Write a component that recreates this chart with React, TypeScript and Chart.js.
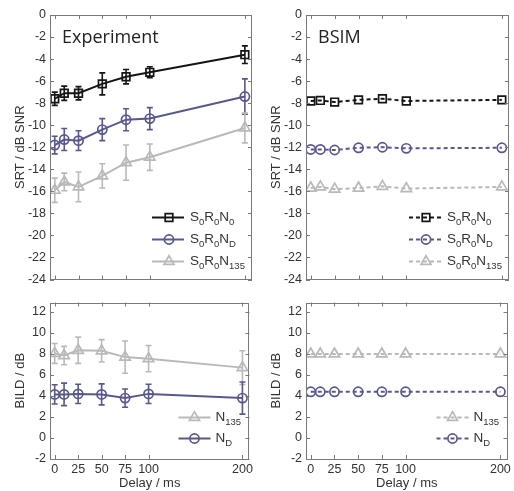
import React, { useEffect, useRef } from "react";
import { Chart, registerables } from "chart.js";
Chart.register(...registerables);

// ---------- data ----------
const delays = [0, 10, 25, 50, 75, 100, 200];
const xTickValues = [0, 25, 50, 75, 100, 200];
const srtTicks = [0, -2, -4, -6, -8, -10, -12, -14, -16, -18, -20, -22, -24];
const bildTicks = [-2, 0, 2, 4, 6, 8, 10, 12];

const expN0 = [-7.6, -7.1, -7.1, -6.25, -5.6, -5.2, -3.6];
const expN0Err = [0.6, 0.65, 0.6, 1.0, 0.65, 0.5, 0.8];
const expND = [-11.8, -11.3, -11.4, -10.4, -9.5, -9.4, -7.4];
const expNDErr = [0.8, 1.0, 0.9, 1.0, 1.0, 1.0, 1.6];
const expN135 = [-15.9, -15.15, -15.6, -14.6, -13.4, -12.9, -10.25];
const expN135Err = [1.1, 0.8, 1.35, 1.1, 1.6, 1.2, 1.35];

const expBildN135 = [8.05, 7.85, 8.35, 8.3, 7.7, 7.55, 6.7];
const expBildN135Err = [0.95, 0.87, 1.25, 1.07, 1.53, 1.25, 1.6];
const expBildND = [4.15, 4.15, 4.2, 4.15, 3.8, 4.2, 3.8];
const expBildNDErr = [0.92, 1.07, 0.92, 1.0, 0.87, 0.92, 1.53];

const simN0 = [-7.8, -7.75, -7.9, -7.7, -7.6, -7.8, -7.7];
const simND = [-12.2, -12.2, -12.25, -12.05, -12.0, -12.1, -12.05];
const simN135 = [-15.7, -15.6, -15.8, -15.7, -15.55, -15.75, -15.6];

const simBildN135 = [8.0, 8.0, 8.0, 8.0, 8.0, 8.0, 8.0];
const simBildND = [4.4, 4.4, 4.4, 4.4, 4.4, 4.4, 4.4];

const labelN0 = "S_{0}R_{0}N_{0}";
const labelND = "S_{0}R_{0}N_{D}";
const labelN135 = "S_{0}R_{0}N_{135}";
const labelBildN135 = "N_{135}";
const labelBildND = "N_{D}";

// ---------- styles ----------
const BLACK = "#151515";
const BLUE = "#585890";
const GRAY = "#b9b9b9";
const AXIS = "#7a7a7a";
const TEXT = "#333333";
const FONT = "'Liberation Sans', Arial, sans-serif";

type Marker = "rect" | "circle" | "triangle";
interface Series {
  label: string;
  values: number[];
  errors?: number[];
  color: string;
  marker: Marker;
  dashed: boolean;
}
interface PanelSpec {
  left: number;
  top: number;
  width: number;
  height: number;
  padTop: number;
  padRight: number;
  xAxisHeight: number;
  showXLabels: boolean;
  yMin: number;
  yMax: number;
  yTicks: number[];
  yTitle: string;
  title?: string;
  series: Series[];
  legend: number[];
  legendRow0: number;
  legendStep: number;
  legendLine: [number, number, number, number];
}

function drawMarker(ctx: CanvasRenderingContext2D, m: Marker, x: number, y: number, color: string) {
  ctx.save();
  ctx.setLineDash([]);
  ctx.strokeStyle = color;
  ctx.lineWidth = 1.7;
  ctx.beginPath();
  if (m === "rect") {
    ctx.rect(x - 3.8, y - 3.8, 7.6, 7.6);
  } else if (m === "circle") {
    ctx.arc(x, y, 4.6, 0, Math.PI * 2);
  } else {
    const r = 5.8;
    ctx.moveTo(x, y - r);
    ctx.lineTo(x + r * 0.866, y + r * 0.5);
    ctx.lineTo(x - r * 0.866, y + r * 0.5);
    ctx.closePath();
  }
  ctx.stroke();
  ctx.restore();
}

function drawRichLabel(ctx: CanvasRenderingContext2D, label: string, x: number, y: number) {
  const parts: { t: string; sub: boolean }[] = [];
  const re = /_\{([^}]*)\}/g;
  let last = 0;
  let m: RegExpExecArray | null;
  while ((m = re.exec(label))) {
    if (m.index > last) parts.push({ t: label.slice(last, m.index), sub: false });
    parts.push({ t: m[1], sub: true });
    last = m.index + m[0].length;
  }
  if (last < label.length) parts.push({ t: label.slice(last), sub: false });
  ctx.save();
  ctx.fillStyle = TEXT;
  ctx.textBaseline = "middle";
  ctx.textAlign = "left";
  let cx = x;
  for (const p of parts) {
    ctx.font = p.sub ? `9.5px ${FONT}` : `13.5px ${FONT}`;
    ctx.fillText(p.t, cx, p.sub ? y + 5 : y);
    cx += ctx.measureText(p.t).width;
  }
  ctx.restore();
}

const errorBars = {
  id: "errorBars",
  beforeDatasetsDraw(chart: any) {
    const { ctx } = chart;
    const x = chart.scales.x;
    const y = chart.scales.y;
    chart.data.datasets.forEach((ds: any) => {
      if (!ds.errors) return;
      ctx.save();
      ctx.strokeStyle = ds.borderColor;
      ctx.lineWidth = 1.6;
      ds.data.forEach((pt: any, i: number) => {
        const e = ds.errors[i];
        const px = x.getPixelForValue(pt.x);
        const y1 = y.getPixelForValue(pt.y + e);
        const y2 = y.getPixelForValue(pt.y - e);
        ctx.beginPath();
        ctx.moveTo(px, y1);
        ctx.lineTo(px, y2);
        ctx.moveTo(px - 3, y1);
        ctx.lineTo(px + 3, y1);
        ctx.moveTo(px - 3, y2);
        ctx.lineTo(px + 3, y2);
        ctx.stroke();
      });
      ctx.restore();
    });
  },
};

function makeDeco(spec: PanelSpec) {
  return {
    id: "deco",
    afterDraw(chart: any) {
      const { ctx, chartArea: a } = chart;
      const x = chart.scales.x;
      const y = chart.scales.y;
      ctx.save();
      ctx.strokeStyle = AXIS;
      ctx.lineWidth = 1;
      ctx.strokeRect(Math.round(a.left) + 0.5, Math.round(a.top) + 0.5, Math.round(a.width) - 1, Math.round(a.height) - 1);
      ctx.beginPath();
      for (const v of xTickValues) {
        const px = Math.round(x.getPixelForValue(v)) + 0.5;
        ctx.moveTo(px, a.bottom);
        ctx.lineTo(px, a.bottom - 4);
        ctx.moveTo(px, a.top);
        ctx.lineTo(px, a.top + 4);
      }
      for (const v of spec.yTicks) {
        const py = Math.round(y.getPixelForValue(v)) + 0.5;
        ctx.moveTo(a.left, py);
        ctx.lineTo(a.left + 4, py);
        ctx.moveTo(a.right, py);
        ctx.lineTo(a.right - 4, py);
      }
      ctx.stroke();
      ctx.restore();

      if (spec.title) {
        ctx.save();
        ctx.fillStyle = "#222";
        ctx.font = `18px 'Open Sans', sans-serif`;
        ctx.textBaseline = "middle";
        ctx.textAlign = "left";
        ctx.fillText(spec.title, a.left + 12, a.top + 23);
        ctx.restore();
      }

      const [ls, le, mk, tx] = spec.legendLine;
      spec.legend.forEach((idx, row) => {
        const s = spec.series[idx];
        const ry = Math.round(a.bottom - spec.legendRow0 + row * spec.legendStep) + 0.5;
        ctx.save();
        ctx.strokeStyle = s.color;
        ctx.lineWidth = 2;
        ctx.setLineDash(s.dashed ? [4, 3] : []);
        ctx.beginPath();
        ctx.moveTo(a.right - ls, ry);
        ctx.lineTo(a.right - le, ry);
        ctx.stroke();
        ctx.restore();
        drawMarker(ctx, s.marker, a.right - mk, ry, s.color);
        drawRichLabel(ctx, s.label, a.right - tx, ry);
      });
    },
  };
}

function buildConfig(spec: PanelSpec): any {
  const datasets = spec.series.map((s) => ({
    label: s.label,
    data: delays.map((d, i) => ({ x: d, y: s.values[i] })),
    errors: s.errors,
    borderColor: s.color,
    backgroundColor: "rgba(255,255,255,0)",
    borderWidth: 2,
    borderDash: s.dashed ? [4, 3] : [],
    pointStyle: s.marker,
    pointRadius: s.marker === "rect" ? 5.4 : s.marker === "circle" ? 4.6 : 6,
    pointBorderWidth: 1.7,
    pointBorderColor: s.color,
    pointBackgroundColor: "rgba(255,255,255,0)",
    showLine: true,
    tension: 0,
  }));
  return {
    type: "scatter",
    data: { datasets },
    options: {
      animation: false,
      responsive: false,
      layout: { autoPadding: false, padding: { top: spec.padTop, right: spec.padRight, left: 0, bottom: 0 } },
      plugins: { legend: { display: false }, tooltip: { enabled: false } },
      scales: {
        x: {
          type: "linear",
          min: -5,
          max: 207.5,
          afterBuildTicks: (sc: any) => {
            sc.ticks = xTickValues.map((v) => ({ value: v }));
          },
          afterFit: (sc: any) => {
            sc.height = spec.xAxisHeight;
          },
          grid: { display: false, drawTicks: false },
          border: { display: false },
          ticks: {
            display: spec.showXLabels,
            autoSkip: false,
            maxRotation: 0,
            padding: 3,
            color: TEXT,
            font: { family: FONT, size: 12.5 },
          },
          title: {
            display: spec.showXLabels,
            text: "Delay / ms",
            color: TEXT,
            font: { family: FONT, size: 13 },
            padding: { top: 0, bottom: 0 },
          },
        },
        y: {
          type: "linear",
          min: spec.yMin,
          max: spec.yMax,
          afterBuildTicks: (sc: any) => {
            sc.ticks = spec.yTicks.map((v) => ({ value: v }));
          },
          afterFit: (sc: any) => {
            sc.width = 50;
          },
          grid: { display: false, drawTicks: false },
          border: { display: false },
          ticks: {
            autoSkip: false,
            padding: 4,
            color: TEXT,
            font: { family: FONT, size: 12.5 },
          },
          title: {
            display: true,
            text: spec.yTitle,
            color: TEXT,
            font: { family: FONT, size: 13 },
            padding: { top: 13, bottom: 0 },
          },
        },
      },
    },
    plugins: [errorBars, makeDeco(spec)],
  };
}

function Panel({ spec }: { spec: PanelSpec }) {
  const ref = useRef<HTMLCanvasElement | null>(null);
  useEffect(() => {
    if (!ref.current) return;
    const chart = new Chart(ref.current, buildConfig(spec));
    return () => chart.destroy();
  }, []);
  return (
    <canvas
      ref={ref}
      width={spec.width}
      height={spec.height}
      style={{ position: "absolute", left: spec.left, top: spec.top, width: spec.width, height: spec.height }}
    />
  );
}

const expTopSeries: Series[] = [
  { label: labelN0, values: expN0, errors: expN0Err, color: BLACK, marker: "rect", dashed: false },
  { label: labelND, values: expND, errors: expNDErr, color: BLUE, marker: "circle", dashed: false },
  { label: labelN135, values: expN135, errors: expN135Err, color: GRAY, marker: "triangle", dashed: false },
];
const simTopSeries: Series[] = [
  { label: labelN0, values: simN0, color: BLACK, marker: "rect", dashed: true },
  { label: labelND, values: simND, color: BLUE, marker: "circle", dashed: true },
  { label: labelN135, values: simN135, color: GRAY, marker: "triangle", dashed: true },
];
const expBotSeries: Series[] = [
  { label: labelBildN135, values: expBildN135, errors: expBildN135Err, color: GRAY, marker: "triangle", dashed: false },
  { label: labelBildND, values: expBildND, errors: expBildNDErr, color: BLUE, marker: "circle", dashed: false },
];
const simBotSeries: Series[] = [
  { label: labelBildN135, values: simBildN135, color: GRAY, marker: "triangle", dashed: true },
  { label: labelBildND, values: simBildND, color: BLUE, marker: "circle", dashed: true },
];

const topCommon = {
  top: 0,
  height: 291,
  padTop: 15,
  xAxisHeight: 6,
  showXLabels: false,
  yMin: -24,
  yMax: 0,
  yTicks: srtTicks,
  yTitle: "SRT / dB SNR",
  legend: [0, 1, 2],
  legendRow0: 63,
  legendStep: 22,
  legendLine: [100, 68, 83, 62] as [number, number, number, number],
};
const botCommon = {
  top: 291,
  height: 200,
  padTop: 6,
  xAxisHeight: 32,
  showXLabels: true,
  yMin: -2,
  yMax: 12.9,
  yTicks: bildTicks,
  yTitle: "BILD / dB",
  legend: [0, 1],
  legendRow0: 42,
  legendStep: 21,
  legendLine: [71, 39, 55, 34] as [number, number, number, number],
};

const panels: PanelSpec[] = [
  { ...topCommon, left: 0, width: 256, padRight: 4, title: "Experiment", series: expTopSeries },
  { ...topCommon, left: 256, width: 258, padRight: 5, title: "BSIM", series: simTopSeries },
  { ...botCommon, left: 0, width: 256, padRight: 4, series: expBotSeries },
  { ...botCommon, left: 256, width: 258, padRight: 5, series: simBotSeries },
];

export default function App() {
  return (
    <div style={{ position: "absolute", left: 0, top: 0, width: 514, height: 491, background: "#fff" }}>
      {panels.map((p, i) => (
        <Panel key={i} spec={p} />
      ))}
    </div>
  );
}
